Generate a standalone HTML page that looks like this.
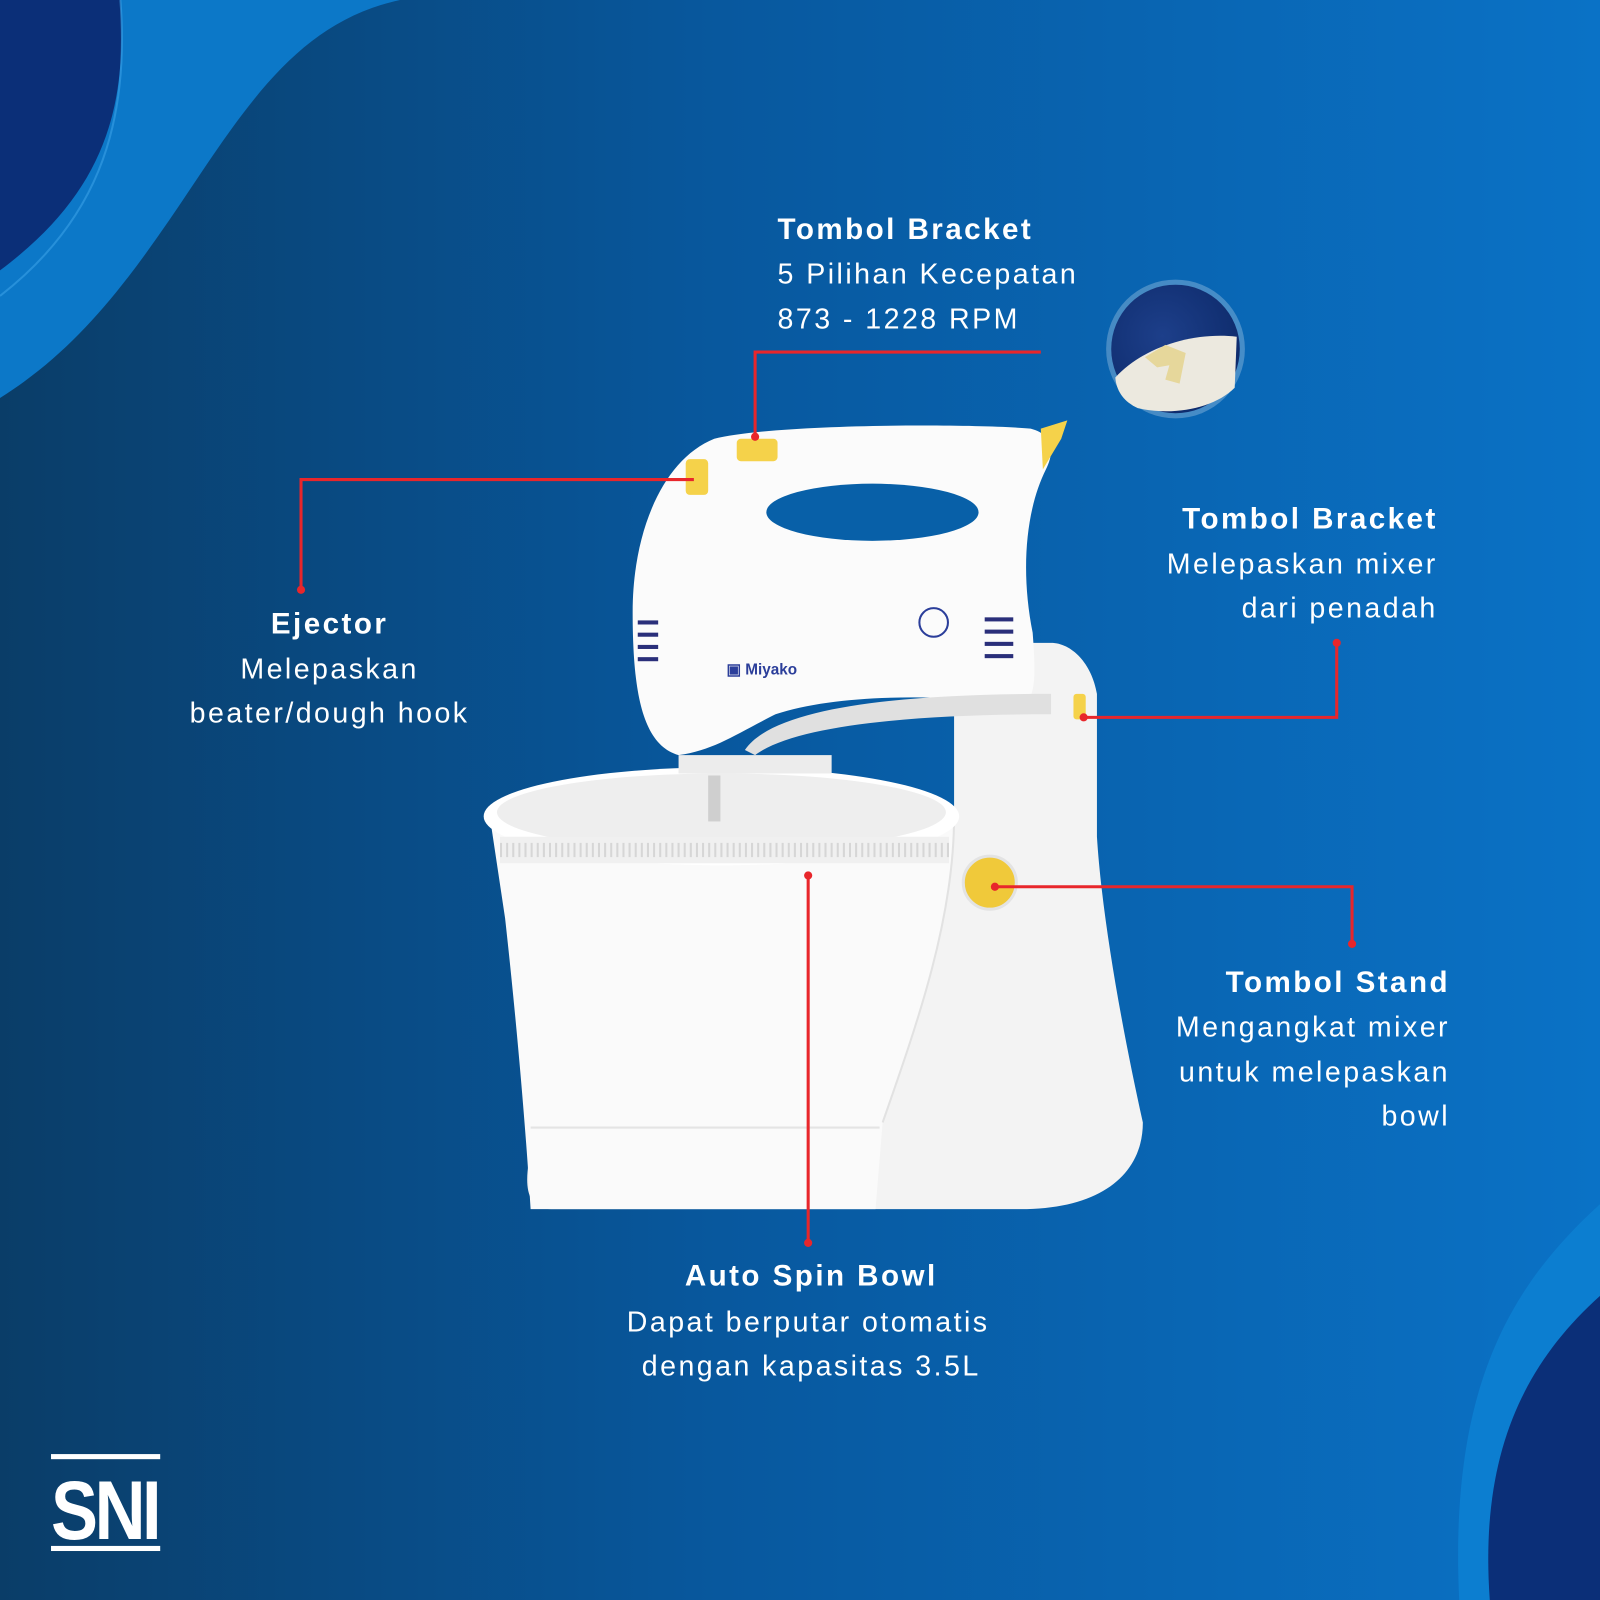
<!DOCTYPE html>
<html><head><meta charset="utf-8"><style>
html,body{margin:0;padding:0;width:1600px;height:1600px;overflow:hidden}
svg{display:block}
text{font-family:"Liberation Sans",sans-serif;fill:#fff;letter-spacing:2.4px}
.b{font-weight:bold;font-size:29px}
.r{font-size:28px}
</style></head><body>
<svg width="1600" height="1600" viewBox="0 0 1568 1568" xmlns="http://www.w3.org/2000/svg">
<defs>
<linearGradient id="bg" x1="0" y1="0" x2="1" y2="0">
<stop offset="0" stop-color="#0a3d68"/><stop offset="0.45" stop-color="#08589e"/><stop offset="1" stop-color="#0a72c6"/>
</linearGradient>
<radialGradient id="ins" cx="0.4" cy="0.4" r="0.7"><stop offset="0" stop-color="#1d3f8a"/><stop offset="1" stop-color="#0d2a6a"/></radialGradient>
</defs>
<rect width="1568" height="1568" fill="url(#bg)"/>
<path d="M0 0 H392 C300 20 250 90 190 180 C130 270 80 340 0 390 Z" fill="#0c78c8"/>
<path d="M0 0 H118 C125 110 100 190 0 265 Z" fill="#0b2f78"/>
<path d="M118 0 C128 130 90 220 0 290" fill="none" stroke="#3aa0e6" stroke-width="2" opacity="0.6"/>
<path d="M1568 1180 C1480 1260 1420 1360 1430 1568 H1568 Z" fill="#0c7ed0"/>
<path d="M1568 1270 C1490 1340 1450 1430 1460 1568 H1568 Z" fill="#0b2f78"/>
<circle cx="1152" cy="342" r="68" fill="#fff" opacity="0.25"/>
<circle cx="1152" cy="342" r="63" fill="url(#ins)"/>
<path d="M1093 370 C1120 340 1170 325 1212 330 L1210 380 C1190 400 1150 408 1115 400 C1100 393 1094 382 1093 370Z" fill="#ece9df"/>
<path d="M1122 350 l20 -12 l20 8 l-6 30 l-14 -4 l4 -14 l-12 2 z" fill="#e6d79b"/>
<!-- stand -->
<path d="M935 660 C935 640 950 630 975 630 L1030 630 C1050 630 1070 650 1075 680 L1075 820 C1080 900 1100 1010 1120 1100 C1120 1150 1080 1185 1000 1185 L540 1185 C515 1185 515 1160 518 1140 L860 1140 L860 820 L935 800 Z" fill="#f3f3f3"/>
<path d="M480 800 L935 800 C935 900 900 1000 865 1100 L858 1185 L520 1185 C515 1100 505 990 495 900 Z" fill="#fafafa"/>
<path d="M935 800 C935 900 900 1000 865 1100" fill="none" stroke="#e2e2e2" stroke-width="2"/>
<path d="M520 1105 H862" stroke="#e4e4e4" stroke-width="2"/>
<ellipse cx="707" cy="800" rx="233" ry="48" fill="#fff"/>
<ellipse cx="707" cy="796" rx="220" ry="38" fill="#eeeeee"/>
<rect x="490" y="820" width="440" height="26" fill="#f0f0f0"/>
<path d="M490 833 H930" stroke="#d6d6d6" stroke-width="14" stroke-dasharray="2 4"/>
<rect x="694" y="760" width="12" height="45" fill="#cfcfcf"/>
<path d="M620 600 C620 520 650 450 700 430 C760 415 950 415 1010 420 C1030 425 1035 440 1025 460 C1005 500 1000 560 1012 620 C1015 660 1015 680 1005 690 C920 680 820 680 760 700 C720 720 700 735 665 740 C630 730 620 680 620 600Z" fill="#fbfbfb"/>
<ellipse cx="855" cy="502" rx="104" ry="28" fill="#0860a8"/>
<path d="M730 735 C760 690 900 680 1030 680 L1030 700 C900 700 780 710 740 740Z" fill="#e0e0e0"/>
<rect x="665" y="740" width="150" height="18" fill="#ececec"/>
<g fill="#2a2f7a"><rect x="965" y="605" width="28" height="4"/><rect x="965" y="617" width="28" height="4"/><rect x="965" y="629" width="28" height="4"/><rect x="965" y="641" width="28" height="4"/><rect x="625" y="608" width="20" height="4"/><rect x="625" y="620" width="20" height="4"/><rect x="625" y="632" width="20" height="4"/><rect x="625" y="644" width="20" height="4"/></g>
<text x="712" y="661" style="fill:#2b3e9a;font-size:15px;font-weight:bold;letter-spacing:0">▣ Miyako</text>
<circle cx="915" cy="610" r="14" fill="none" stroke="#2b3e9a" stroke-width="2"/>
<g fill="#f5d24a"><rect x="672" y="450" width="22" height="35" rx="4"/><rect x="722" y="430" width="40" height="22" rx="4"/><path d="M1020 420 L1046 412 L1040 430 L1022 460Z"/><rect x="1052" y="680" width="12" height="25" rx="3"/></g>
<circle cx="970" cy="865" r="26" fill="#f0c93a" stroke="#e3e3e3" stroke-width="3"/>
<g stroke="#e8262b" stroke-width="3" fill="none">
<path d="M740 428 V345 H1020"/>
<path d="M680 470 H295 V578"/>
<path d="M1062 703 H1310 V630"/>
<path d="M975 869 H1325 V925"/>
<path d="M792 858 V1218"/>
</g>
<g fill="#e8262b"><circle cx="740" cy="428" r="4"/><circle cx="295" cy="578" r="4"/><circle cx="1310" cy="630" r="4"/><circle cx="1325" cy="925" r="4"/><circle cx="792" cy="858" r="4"/><circle cx="792" cy="1218" r="4"/><circle cx="1062" cy="703" r="4"/><circle cx="975" cy="869" r="4"/></g>
<text class="b" x="762" y="234">Tombol Bracket</text>
<text class="r" x="762" y="278">5 Pilihan Kecepatan</text>
<text class="r" x="762" y="322">873 - 1228 RPM</text>
<g text-anchor="middle">
<text class="b" x="323" y="621">Ejector</text>
<text class="r" x="323" y="665">Melepaskan</text>
<text class="r" x="323" y="708">beater/dough hook</text>
<text class="b" x="795" y="1260">Auto Spin Bowl</text>
<text class="r" x="792" y="1305">Dapat berputar otomatis</text>
<text class="r" x="795" y="1348">dengan kapasitas 3.5L</text>
</g>
<g text-anchor="end">
<text class="b" x="1409" y="518">Tombol Bracket</text>
<text class="r" x="1409" y="562">Melepaskan mixer</text>
<text class="r" x="1409" y="605">dari penadah</text>
<text class="b" x="1421" y="972">Tombol Stand</text>
<text class="r" x="1421" y="1016">Mengangkat mixer</text>
<text class="r" x="1421" y="1060">untuk melepaskan</text>
<text class="r" x="1421" y="1103">bowl</text>
</g>
<g fill="#fff"><rect x="50" y="1425" width="107" height="5"/><rect x="50" y="1515" width="107" height="5"/>
<text x="50" y="1508" style="font-size:82px;font-weight:bold;letter-spacing:-4px" textLength="105" lengthAdjust="spacingAndGlyphs">SNI</text></g>
</svg>
</body></html>
